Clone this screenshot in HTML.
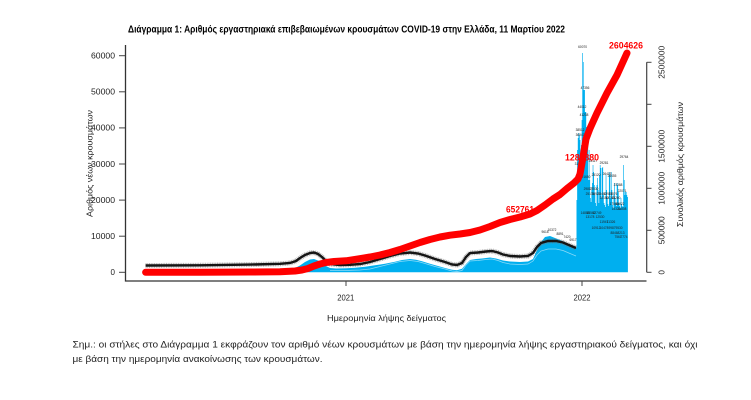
<!DOCTYPE html>
<html>
<head>
<meta charset="utf-8">
<style>
html,body{margin:0;padding:0;background:#fff;}
svg{display:block;}
text{font-family:"Liberation Sans","DejaVu Sans",sans-serif;}
.tk{font-size:8px;fill:#222;}
.t{font-size:3.2px;fill:#222;text-anchor:middle;}
.r{font-size:9px;font-weight:bold;fill:#ff0000;}
</style>
</head>
<body>
<svg width="751" height="400" viewBox="0 0 751 400" xmlns="http://www.w3.org/2000/svg">
<rect width="751" height="400" fill="#fff"/>

<!-- Title -->
<text x="128" y="32.5" font-size="10.5" font-weight="bold" fill="#000" textLength="437" lengthAdjust="spacingAndGlyphs">Διάγραμμα 1: Αριθμός εργαστηριακά επιβεβαιωμένων κρουσμάτων COVID-19 στην Ελλάδα, 11 Μαρτίου 2022</text>

<!-- Blue bars (daily new cases) -->
<path fill="#00AFEF" d="M145.6,272.3 L145.6,272 L200,271.8 L240,271.5 L260,271.1 L280,270.5 L290,269.5 L295,268 L300,265.5 L305,262 L310,259.5 L314,259 L318,260.5 L322,263 L326,266 L330,268 L336,268.5 L346,268.3 L355,267.8 L365,266.8 L375,265.3 L385,263.8 L395,261.8 L402,260 L410,259 L416,259.8 L422,261.3 L430,263.8 L438,266 L445,268 L452,269.8 L457,270.3 L462,268.8 L466,264 L470,260 L476,259 L482,258.5 L490,257.5 L496,258.5 L503,260.5 L510,261.5 L520,262 L528,261.5 L533,259 L537,250 L541,242 L545,237 L550,236 L555,238 L560,240 L565,242 L570,246 L576.5,248
V200 H577.15 V150 H577.8 V138 H578.44 V133 H579.09 V135 H579.73 V140 H580.38 V175 H581.03 V145 H581.67 V120 H582.32 V53 H582.97 V62 H583.6 V90 H584.9 V112 H586.2 V127 H586.85 V140 H587.5 V137 H588.15 V180 H588.8 V150 H589.45 V180 H590.1 V198 H590.75 V202 H591.4 V190 H592.05 V183 H592.7 V165 H593.35 V172 H594 V185 H594.65 V195 H595.3 V203 H595.95 V206 H596.6 V185 H597.25 V178 H597.9 V190 H598.55 V203 H599.2 V175 H599.85 V165 H600.5 V168 H601.15 V198 H601.8 V168 H602.45 V167 H603.1 V195 H603.75 V203 H604.4 V205 H605.05 V207 H605.7 V175 H606.35 V190 H607 V198 H607.65 V204 H608.3 V206 H608.95 V172 H609.6 V175 H610.25 V198 H610.9 V172 H611.55 V190 H612.2 V205 H612.85 V208 H613.5 V195 H614.15 V183 H614.8 V198 H615.45 V203 H616.1 V206 H616.75 V183 H617.4 V185 H618.05 V192 H618.7 V203 H619.35 V206 H620 V208 H620.65 V198 H621.3 V204 H621.95 V206 H622.6 V207 H623.25 V165 H623.9 V180 H624.55 V195 H625.2 V192 H625.85 V192 H626.5 V195 H627.2 V197 H627.9 V272.3 Z"/>

<!-- faint average line -->
<polyline fill="none" stroke="#fff" stroke-width="0.7" opacity="0.55" points="330,270.5 346,270.5 360,270 370,269 380,266.5 390,264 400,261.5 410,260.5 418,261.5 425,263.5 435,266.5 445,269 452,271 457,271.5 462,270.5 466,265 470,261 478,260.5 486,259.5 492,259 498,260.5 503,262.5 510,264 520,264.5 528,264 533,261 537,255 541,251 548,249 556,249 563,250.5 570,253.5 576,256"/>

<!-- black label band -->
<polyline fill="none" stroke="#7a7a7a" stroke-width="5" opacity="0.55" stroke-dasharray="1 0.7" points="145.6,265.5 200,265.3 250,264.6 280,263.8 290,263 296,261 300,258 305,255 310,253 314,252.5 318,254 322,257 326,261 330,264 340,265 350,264.8 360,264 370,262 380,259 390,256 400,253.5 410,252.5 418,253.5 425,255.5 435,259 445,262 452,264.5 457,265 462,263 466,257 470,253 478,252.5 486,251.5 492,251 498,252.5 503,254.5 510,256 520,256.5 528,256 533,253 537,247 541,243 548,241 556,241 563,242.5 570,245.5 576,248"/>
<polyline fill="none" stroke="#151515" stroke-width="2.4" points="145.6,265.5 200,265.3 250,264.6 280,263.8 290,263 296,261 300,258 305,255 310,253 314,252.5 318,254 322,257 326,261 330,264 340,265 350,264.8 360,264 370,262 380,259 390,256 400,253.5 410,252.5 418,253.5 425,255.5 435,259 445,262 452,264.5 457,265 462,263 466,257 470,253 478,252.5 486,251.5 492,251 498,252.5 503,254.5 510,256 520,256.5 528,256 533,253 537,247 541,243 548,241 556,241 563,242.5 570,245.5 576,248"/>

<!-- tiny value labels -->
<g>
<text class="t" x="545" y="233">9618</text>
<text class="t" x="552" y="231">10372</text>
<text class="t" x="560" y="235">8891</text>
<text class="t" x="567" y="238">7420</text>
<text class="t" x="573" y="241">6917</text>
<text class="t" x="582.6" y="48">60070</text>
<text class="t" x="585" y="89">47356</text>
<text class="t" x="582" y="108">44012</text>
<text class="t" x="584" y="116">41238</text>
<text class="t" x="580" y="131">38512</text>
<text class="t" x="580" y="136">36947</text>
<text class="t" x="579" y="165">31540</text>
<text class="t" x="624" y="158">29764</text>
<text class="t" x="604" y="164">29281</text>
<text class="t" x="593" y="162">28117</text>
<text class="t" x="607" y="175">26403</text>
<text class="t" x="596" y="176">25120</text>
<text class="t" x="612" y="177">24455</text>
<text class="t" x="618" y="186">23388</text>
<text class="t" x="622" y="192">22071</text>
<text class="t" x="586" y="178">21650</text>
<text class="t" x="588" y="190">29813</text>
<text class="t" x="594" y="190">27530</text>
<text class="t" x="590" y="195">25176</text>
<text class="t" x="596" y="195">24921</text>
<text class="t" x="602" y="195">23460</text>
<text class="t" x="608" y="195">22987</text>
<text class="t" x="613" y="195">21876</text>
<text class="t" x="604" y="199">20150</text>
<text class="t" x="610" y="199">19743</text>
<text class="t" x="616" y="199">18260</text>
<text class="t" x="614" y="205">17550</text>
<text class="t" x="620" y="205">16822</text>
<text class="t" x="616" y="210">15321</text>
<text class="t" x="622" y="210">14808</text>
<text class="t" x="585" y="214">14888</text>
<text class="t" x="591" y="214">13562</text>
<text class="t" x="597" y="214">12749</text>
<text class="t" x="590" y="218">13178</text>
<text class="t" x="600" y="218">12530</text>
<text class="t" x="604" y="223">11947</text>
<text class="t" x="611" y="223">11326</text>
<text class="t" x="596" y="229">10912</text>
<text class="t" x="604" y="229">10478</text>
<text class="t" x="612" y="229">9987</text>
<text class="t" x="619" y="229">9530</text>
<text class="t" x="614" y="234">8846</text>
<text class="t" x="621" y="234">8213</text>
<text class="t" x="618" y="238">7561</text>
<text class="t" x="624" y="238">7774</text>
</g>

<!-- red labels -->
<text class="r" x="609" y="48.5" textLength="34" lengthAdjust="spacingAndGlyphs">2604626</text>
<text class="r" x="565" y="160.3" textLength="34" lengthAdjust="spacingAndGlyphs">1284880</text>
<text class="r" x="506" y="212.3" textLength="28" lengthAdjust="spacingAndGlyphs">652761</text>

<!-- red cumulative line -->
<polyline fill="none" stroke="#ff0000" stroke-width="7" stroke-linecap="round" stroke-linejoin="round" points="145.6,272.3 200,272.2 250,272 280,271.8 295,271 302,270 308,268.5 314,266 320,264 326,262.5 334,261.5 346,260.8 358,259 370,257 380,255 390,252.5 400,249.5 410,246 420,242.5 430,239.5 440,237 450,235.2 460,234 470,232.5 480,230 490,226.5 500,222.5 510,219.5 520,217 530,214 537,210.5 545,205 553,199 560,194.5 567,188.5 574,183 578,179 580,174 582,163 584,151 586,139 590,128.5 597,113 607,93 617,75 627,53"/>

<!-- Axes box -->
<path d="M125.5,45 V281 H646.5" fill="none" stroke="#333" stroke-width="1.3"/>
<!-- left ticks -->
<g stroke="#444" stroke-width="1">
<line x1="119" y1="55.7" x2="125" y2="55.7"/>
<line x1="119" y1="91.8" x2="125" y2="91.8"/>
<line x1="119" y1="127.9" x2="125" y2="127.9"/>
<line x1="119" y1="164" x2="125" y2="164"/>
<line x1="119" y1="200.1" x2="125" y2="200.1"/>
<line x1="119" y1="236.2" x2="125" y2="236.2"/>
<line x1="119" y1="272.3" x2="125" y2="272.3"/>
</g>
<g class="tk" text-anchor="end">
<text x="115" y="58.5" textLength="24" lengthAdjust="spacingAndGlyphs">60000</text>
<text x="115" y="94.6" textLength="24" lengthAdjust="spacingAndGlyphs">50000</text>
<text x="115" y="130.7" textLength="24" lengthAdjust="spacingAndGlyphs">40000</text>
<text x="115" y="166.8" textLength="24" lengthAdjust="spacingAndGlyphs">30000</text>
<text x="115" y="202.9" textLength="24" lengthAdjust="spacingAndGlyphs">20000</text>
<text x="115" y="239" textLength="24" lengthAdjust="spacingAndGlyphs">10000</text>
<text x="115" y="275.1">0</text>
</g>
<text class="tk" transform="translate(92.5,163.5) rotate(-90)" text-anchor="middle" textLength="107" lengthAdjust="spacingAndGlyphs">Αριθμός νέων κρουσμάτων</text>

<!-- right axis -->
<line x1="646.7" y1="62.3" x2="646.7" y2="272.3" stroke="#444" stroke-width="1.2"/>
<g stroke="#444" stroke-width="1">
<line x1="646.7" y1="62.3" x2="651.5" y2="62.3"/>
<line x1="646.7" y1="104.3" x2="651.5" y2="104.3"/>
<line x1="646.7" y1="146.3" x2="651.5" y2="146.3"/>
<line x1="646.7" y1="188.3" x2="651.5" y2="188.3"/>
<line x1="646.7" y1="230.3" x2="651.5" y2="230.3"/>
<line x1="646.7" y1="272.3" x2="651.5" y2="272.3"/>
</g>
<g class="tk" text-anchor="middle">
<text transform="translate(664.5,62.3) rotate(-90)" textLength="33" lengthAdjust="spacingAndGlyphs">2500000</text>
<text transform="translate(664.5,146.3) rotate(-90)" textLength="33" lengthAdjust="spacingAndGlyphs">1500000</text>
<text transform="translate(664.5,188.3) rotate(-90)" textLength="33" lengthAdjust="spacingAndGlyphs">1000000</text>
<text transform="translate(664.5,230.3) rotate(-90)" textLength="28" lengthAdjust="spacingAndGlyphs">500000</text>
<text transform="translate(664.5,272.3) rotate(-90)">0</text>
</g>
<text class="tk" transform="translate(683,164.5) rotate(-90)" text-anchor="middle" textLength="125" lengthAdjust="spacingAndGlyphs">Συνολικός αριθμός κρουσμάτων</text>

<!-- x ticks -->
<g stroke="#444" stroke-width="1">
<line x1="346" y1="281" x2="346" y2="286"/>
<line x1="582" y1="281" x2="582" y2="286"/>
</g>
<g class="tk" text-anchor="middle">
<text x="345.8" y="300.3" textLength="17" lengthAdjust="spacingAndGlyphs">2021</text>
<text x="582" y="300.3" textLength="17" lengthAdjust="spacingAndGlyphs">2022</text>
</g>
<text x="327" y="321" font-size="8.5" fill="#222" textLength="119" lengthAdjust="spacingAndGlyphs">Ημερομηνία λήψης δείγματος</text>

<!-- note -->
<text x="72.5" y="347.5" font-size="9" fill="#222" textLength="625" lengthAdjust="spacingAndGlyphs">Σημ.:  οι στήλες στο Διάγραμμα 1 εκφράζουν τον αριθμό νέων κρουσμάτων με βάση την ημερομηνία λήψης εργαστηριακού δείγματος, και όχι</text>
<text x="72.5" y="362" font-size="9" fill="#222" textLength="250" lengthAdjust="spacingAndGlyphs">με βάση την ημερομηνία ανακοίνωσης των κρουσμάτων.</text>
</svg>
</body>
</html>
